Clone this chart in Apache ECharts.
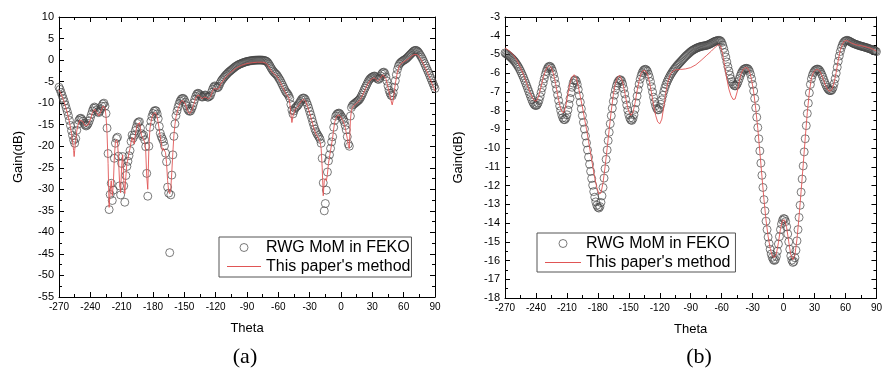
<!DOCTYPE html>
<html>
<head>
<meta charset="utf-8">
<script src="https://cdn.jsdelivr.net/npm/echarts@6/dist/echarts.min.js"></script>
<style>
  body { margin: 0; padding: 0; background: #fff; }
  #chart { width: 885px; height: 370px; }
</style>
</head>
<body>
<div id="chart"></div>
<script>
// FEKO samples: one value per degree, theta = -270 .. 90
const thetaStart = -270;

const fekoGainA = [
  -6.3, -6.8, -7.5, -8.2, -8.9, -9.6, -10.4, -11.2, -12.0, -12.9,
  -14.0, -15.2, -16.4, -17.5, -18.6, -19.3, -18.2, -16.3, -14.9, -14.0,
  -13.6, -13.5, -13.8, -14.2, -14.7, -15.1, -15.3, -15.1, -14.7, -14.1,
  -13.4, -12.6, -11.8, -11.2, -10.9, -11.1, -11.6, -12.0, -12.2, -11.9,
  -11.3, -10.7, -10.2, -10.0, -10.7, -12.4, -15.8, -21.7, -34.7, -31.2,
  -28.6, -32.6, -30.2, -22.8, -19.3, -18.2, -17.9, -22.3, -29.2, -31.3,
  -24.0, -22.4, -29.2, -33.0, -26.8, -24.7, -23.5, -22.2, -21.0, -18.9,
  -17.4, -18.1, -17.5, -16.4, -15.6, -14.7, -14.4, -14.3, -15.8, -17.1,
  -17.7, -17.4, -18.5, -20.1, -26.3, -31.6, -20.0, -15.6, -14.2, -13.1,
  -12.4, -11.9, -11.7, -11.8, -12.5, -13.6, -15.4, -17.0, -17.8, -18.3,
  -18.9, -19.9, -21.6, -23.6, -29.5, -30.9, -44.7, -31.3, -26.7, -22.0,
  -17.7, -14.8, -12.9, -11.8, -10.9, -10.1, -9.5, -9.1, -8.9, -8.9,
  -9.2, -9.8, -10.6, -11.3, -11.7, -11.9, -11.8, -11.3, -10.7, -9.9,
  -9.1, -8.4, -7.9, -7.7, -7.8, -8.1, -8.4, -8.6, -8.5, -8.2,
  -8.1, -8.3, -8.6, -8.6, -8.4, -8.2, -7.5, -6.8, -6.3, -6.0,
  -6.1, -6.4, -6.4, -6.1, -5.5, -5.0, -4.6, -4.3, -4.0, -3.7,
  -3.4, -3.2, -2.9, -2.7, -2.5, -2.3, -2.1, -1.9, -1.7, -1.5,
  -1.35, -1.2, -1.05, -0.95, -0.85, -0.75, -0.65, -0.55, -0.47, -0.4,
  -0.33, -0.27, -0.22, -0.18, -0.14, -0.1, -0.07, -0.05, -0.03, -0.02,
  -0.01, 0, 0, 0, -0.01, -0.03, -0.06, -0.1, -0.2, -0.35,
  -0.6, -0.95, -1.35, -1.8, -2.2, -2.55, -2.85, -3.1, -3.3, -3.6,
  -4.0, -4.4, -4.8, -5.3, -5.8, -6.3, -6.8, -7.3, -7.6, -7.9,
  -8.3, -8.9, -10.3, -11.6, -12.5, -11.8, -11.2, -10.9, -10.7, -10.4,
  -10.0, -9.6, -9.2, -8.9, -8.8, -8.9, -9.2, -9.8, -10.4, -11.1,
  -11.9, -12.7, -13.5, -14.4, -15.2, -16.0, -16.6, -17.1, -17.5, -17.9,
  -18.4, -19.3, -22.8, -28.5, -35.0, -33.3, -30.2, -26.0, -23.4, -22.0,
  -20.5, -19.0, -17.8, -15.6, -14.0, -13.0, -12.6, -12.4, -12.3, -12.5,
  -12.9, -13.3, -13.8, -14.3, -15.2, -16.2, -17.8, -19.5, -20.0, -13.0,
  -11.0, -10.5, -10.3, -10.1, -9.9, -9.7, -9.5, -9.3, -9.0, -8.6,
  -8.1, -7.6, -7.0, -6.5, -6.0, -5.5, -5.0, -4.6, -4.3, -4.1,
  -3.9, -3.8, -3.7, -3.8, -4.1, -4.4, -4.5, -4.2, -3.7, -3.2,
  -2.9, -2.8, -3.1, -3.9, -4.9, -6.0, -7.0, -7.7, -8.2, -8.3,
  -7.6, -6.3, -4.8, -3.4, -2.2, -1.4, -0.9, -0.6, -0.4, -0.2,
  -0.05, 0.1, 0.25, 0.45, 0.7, 0.95, 1.2, 1.45, 1.7, 1.95,
  2.15, 2.25, 2.25, 2.1, 1.85, 1.5, 1.1, 0.7, 0.25, -0.25,
  -0.8, -1.35, -1.9, -2.45, -3.0, -3.6, -4.2, -4.8, -5.4, -6.0,
  -6.6
];

// [theta, gain] of the red curve in (a)
const methodA = [
  [-270, -6.9], [-268, -7.9], [-266, -9.1], [-264, -10.6], [-262, -12.3], [-260, -14.4],
  [-258, -17.0], [-256, -21.0], [-255.5, -22.4], [-255, -21.0], [-254, -18.6], [-253, -16.5],
  [-252, -15.2], [-250, -13.9], [-249, -13.7], [-247, -14.3], [-245, -15.3], [-244, -15.6],
  [-242, -15.0], [-240, -13.8], [-238, -12.2], [-236, -11.4], [-234, -12.1], [-232, -13.0],
  [-230, -12.0], [-228, -10.7], [-227, -10.4], [-226, -11.0], [-225, -13.0], [-224, -17.0],
  [-223, -24.0], [-222, -34.2], [-221, -30.5], [-220, -28.0], [-219, -31.5], [-218, -29.0],
  [-217, -22.5], [-216, -19.0], [-215, -18.5], [-214, -19.0], [-213, -23.0], [-212, -28.5],
  [-211, -30.8], [-210, -24.5], [-209, -22.0], [-208, -28.0], [-207, -31.0], [-206, -27.0],
  [-205, -24.0], [-204, -23.0], [-203, -21.5], [-202, -20.5], [-201, -19.0], [-200, -18.0],
  [-199, -18.8], [-198, -19.5], [-197, -17.5], [-196, -16.0], [-195, -15.0], [-194, -14.6],
  [-193, -14.5], [-192, -16.0], [-191, -17.5], [-190, -18.0], [-189, -18.0], [-188, -19.0],
  [-187, -21.0], [-186, -27.0], [-185, -30.0], [-184, -21.0], [-183, -16.0], [-182, -14.5],
  [-181, -13.3], [-180, -12.6], [-178, -12.1], [-177, -12.3], [-176, -13.2], [-175, -14.6],
  [-174, -16.2], [-173, -17.8], [-172, -19.5], [-171, -21.0], [-170, -20.5], [-169, -20.2],
  [-168, -21.5], [-167, -24.0], [-166, -28.0], [-165, -30.5], [-164, -31.0], [-163, -30.0],
  [-162, -26.0], [-161, -21.5], [-160, -17.5], [-159, -15.0], [-158, -13.2], [-156, -11.3],
  [-154, -10.0], [-152, -9.3], [-151, -9.2], [-149, -10.2], [-147, -11.8], [-145, -12.5],
  [-143, -11.8], [-141, -10.3], [-139, -8.8], [-137, -8.1], [-135, -8.4], [-133, -9.0],
  [-131, -8.6], [-129, -8.7], [-127, -9.0], [-125, -8.6], [-123, -7.2], [-121, -6.5],
  [-119, -6.8], [-117, -6.6], [-115, -5.5], [-110, -3.8], [-105, -2.7], [-100, -1.8],
  [-95, -1.2], [-90, -0.8], [-85, -0.6], [-80, -0.5], [-75, -0.5], [-72, -0.7],
  [-70, -1.2], [-68, -2.0], [-66, -2.8], [-64, -3.2], [-62, -3.6], [-60, -4.3],
  [-58, -5.2], [-56, -6.2], [-54, -7.2], [-52, -8.0], [-50, -8.8], [-49, -10.0],
  [-48, -12.5], [-47, -14.5], [-46, -13.0], [-44, -11.5], [-42, -11.0], [-40, -10.3],
  [-38, -9.5], [-36, -9.1], [-34, -9.5], [-32, -10.8], [-30, -12.3], [-28, -14.0],
  [-26, -15.8], [-24, -17.2], [-22, -18.0], [-20, -19.0], [-19, -20.5], [-18, -25.0],
  [-17, -31.5], [-16, -28.0], [-15, -27.5], [-14, -28.0], [-13, -26.5], [-12, -24.0],
  [-11, -22.5], [-10, -21.0], [-9, -19.5], [-8, -18.0], [-7, -16.0], [-6, -14.4],
  [-4, -13.0], [-2, -12.7], [0, -13.3], [2, -14.2], [4, -15.6], [6, -18.2],
  [7, -19.8], [8, -20.5], [9, -14.0], [10, -11.5], [12, -10.6], [15, -10.0],
  [18, -9.3], [20, -8.5], [22, -7.4], [24, -6.4], [26, -5.4], [28, -4.7],
  [30, -4.3], [32, -4.1], [33, -4.2], [35, -4.9], [36, -5.0], [38, -4.1],
  [40, -3.4], [41, -3.3], [43, -4.3], [45, -6.3], [47, -8.5], [49, -10.4],
  [50, -9.3], [51, -7.3], [52, -5.5], [54, -2.8], [56, -1.3], [58, -0.7],
  [60, -0.4], [62, -0.1], [64, 0.2], [66, 0.6], [68, 1.0], [70, 1.3],
  [71.5, 1.45], [73, 1.25], [75, 0.7], [77, 0.0], [79, -0.9], [81, -1.9],
  [83, -3.0], [85, -4.2], [87, -5.4], [89, -6.6], [90, -7.2]
];

const fekoGainB = [
  -4.92, -4.96, -5.00, -5.04, -5.08, -5.13, -5.18, -5.23, -5.29, -5.35,
  -5.42, -5.50, -5.58, -5.67, -5.77, -5.88, -6.00, -6.12, -6.25, -6.39,
  -6.53, -6.67, -6.82, -6.97, -7.12, -7.27, -7.42, -7.55, -7.65, -7.71,
  -7.73, -7.70, -7.60, -7.45, -7.25, -7.02, -6.78, -6.53, -6.30, -6.08,
  -5.90, -5.76, -5.67, -5.63, -5.65, -5.73, -5.87, -6.06, -6.30, -6.57,
  -6.86, -7.16, -7.46, -7.75, -8.00, -8.22, -8.38, -8.47, -8.48, -8.40,
  -8.22, -7.97, -7.67, -7.35, -7.03, -6.75, -6.53, -6.39, -6.35, -6.42,
  -6.60, -6.87, -7.20, -7.55, -7.90, -8.26, -8.62, -8.98, -9.35, -9.72,
  -10.10, -10.48, -10.86, -11.24, -11.62, -11.98, -12.32, -12.62, -12.87, -13.05,
  -13.16, -13.20, -13.12, -12.90, -12.55, -12.10, -11.60, -11.10, -10.60, -10.10,
  -9.60, -9.15, -8.70, -8.27, -7.87, -7.50, -7.17, -6.90, -6.68, -6.52,
  -6.42, -6.36, -6.35, -6.42, -6.58, -6.82, -7.10, -7.40, -7.70, -7.98,
  -8.22, -8.40, -8.50, -8.52, -8.42, -8.22, -7.93, -7.58, -7.22, -6.88,
  -6.58, -6.32, -6.12, -5.97, -5.87, -5.81, -5.79, -5.82, -5.90, -6.05,
  -6.22, -6.45, -6.72, -7.00, -7.28, -7.53, -7.74, -7.88, -7.95, -7.95,
  -7.85, -7.66, -7.42, -7.18, -6.96, -6.77, -6.61, -6.47, -6.35, -6.24,
  -6.13, -6.04, -5.95, -5.87, -5.79, -5.72, -5.65, -5.58, -5.52, -5.46,
  -5.40, -5.34, -5.28, -5.22, -5.16, -5.10, -5.05, -5.00, -4.95, -4.90,
  -4.85, -4.81, -4.77, -4.74, -4.71, -4.68, -4.65, -4.63, -4.61, -4.59,
  -4.57, -4.56, -4.55, -4.54, -4.53, -4.52, -4.50, -4.48, -4.46, -4.43,
  -4.40, -4.37, -4.34, -4.31, -4.29, -4.27, -4.26, -4.25, -4.25, -4.28,
  -4.36, -4.50, -4.68, -4.90, -5.14, -5.40, -5.65, -5.88, -6.10, -6.30,
  -6.45, -6.57, -6.65, -6.68, -6.66, -6.58, -6.45, -6.30, -6.14, -6.00,
  -5.90, -5.82, -5.77, -5.75, -5.74, -5.75, -5.80, -5.90, -6.07, -6.30,
  -6.60, -6.95, -7.35, -7.85, -8.35, -8.90, -9.50, -10.15, -10.80, -11.45,
  -12.10, -12.75, -13.35, -13.90, -14.35, -14.75, -15.10, -15.40, -15.65, -15.83,
  -15.95, -16.00, -15.95, -15.78, -15.50, -15.12, -14.72, -14.35, -14.05, -13.85,
  -13.76, -13.78, -13.92, -14.20, -14.58, -15.00, -15.40, -15.75, -15.98, -16.10,
  -16.05, -15.85, -15.45, -14.95, -14.35, -13.70, -13.05, -12.35, -11.65, -10.95,
  -10.20, -9.50, -8.80, -8.15, -7.60, -7.05, -6.60, -6.30, -6.10, -5.97,
  -5.88, -5.82, -5.79, -5.78, -5.80, -5.86, -5.95, -6.07, -6.20, -6.35,
  -6.50, -6.63, -6.75, -6.84, -6.90, -6.93, -6.93, -6.88, -6.76, -6.56,
  -6.30, -6.00, -5.68, -5.36, -5.08, -4.84, -4.64, -4.49, -4.38, -4.31,
  -4.27, -4.25, -4.25, -4.27, -4.30, -4.33, -4.36, -4.39, -4.42, -4.44,
  -4.46, -4.48, -4.50, -4.52, -4.54, -4.55, -4.57, -4.58, -4.60, -4.62,
  -4.63, -4.65, -4.67, -4.69, -4.71, -4.73, -4.75, -4.77, -4.79, -4.82,
  -4.85
];

// [theta, gain] of the red curve in (b)
const methodB = [
  [-270, -4.65], [-266, -4.8], [-262, -5.02], [-258, -5.35], [-255, -5.7], [-252, -6.1],
  [-249, -6.55], [-246, -7.0], [-243, -7.35], [-241, -7.5], [-239, -7.45], [-237, -7.15],
  [-235, -6.7], [-233, -6.25], [-231, -5.9], [-229, -5.68], [-227, -5.6], [-225, -5.72],
  [-223, -6.05], [-221, -6.55], [-219, -7.15], [-217, -7.7], [-215, -8.05], [-214, -8.12],
  [-213, -8.1], [-211, -7.75], [-209, -7.1], [-207, -6.55], [-205, -6.2], [-203, -6.08],
  [-201, -6.25], [-199, -6.7], [-197, -7.25], [-195, -7.8], [-193, -8.4], [-191, -9.0],
  [-189, -9.65], [-187, -10.3], [-185, -10.95], [-183, -11.6], [-181, -12.1], [-179, -12.45],
  [-178, -12.5], [-177, -12.4], [-175, -11.85], [-173, -11.0], [-171, -10.0], [-169, -9.0],
  [-167, -8.0], [-165, -7.15], [-163, -6.55], [-161, -6.22], [-159, -6.12], [-158, -6.15],
  [-156, -6.45], [-154, -7.0], [-152, -7.6], [-150, -8.05], [-148, -8.25], [-146, -8.1],
  [-144, -7.6], [-142, -6.95], [-140, -6.4], [-138, -6.0], [-136, -5.85], [-134, -5.87],
  [-132, -6.05], [-130, -6.45], [-128, -7.05], [-126, -7.7], [-124, -8.25], [-122, -8.6],
  [-120, -8.7], [-118, -8.45], [-116, -7.75], [-114, -7.0], [-112, -6.45], [-110, -6.1],
  [-108, -5.92], [-105, -5.82], [-100, -5.8], [-95, -5.77], [-90, -5.7], [-85, -5.55],
  [-80, -5.32], [-75, -5.07], [-70, -4.82], [-66, -4.6], [-63, -4.47], [-62, -4.45],
  [-61, -4.55], [-59, -5.0], [-57, -5.65], [-55, -6.3], [-53, -6.85], [-51, -7.2],
  [-49, -7.4], [-48, -7.43], [-47, -7.38], [-45, -7.0], [-43, -6.45], [-41, -6.0],
  [-39, -5.78], [-37, -5.7], [-35, -5.72], [-33, -5.92], [-31, -6.35], [-29, -7.0],
  [-27, -7.9], [-25, -8.95], [-23, -10.2], [-21, -11.5], [-19, -12.75], [-17, -13.85],
  [-15, -14.7], [-13, -15.35], [-11, -15.75], [-9, -15.85], [-7, -15.65], [-5, -15.05],
  [-3, -14.3], [-1, -13.85], [0, -13.8], [1, -13.83], [3, -14.25], [5, -15.0],
  [7, -15.7], [9, -15.95], [11, -15.7], [13, -14.85], [15, -13.65], [17, -12.3],
  [19, -10.9], [21, -9.45], [23, -8.1], [25, -7.0], [27, -6.25], [29, -5.95],
  [31, -5.82], [33, -5.8], [35, -5.88], [37, -6.1], [39, -6.4], [41, -6.7],
  [43, -6.9], [45, -6.98], [47, -6.85], [49, -6.5], [51, -5.95], [53, -5.3],
  [55, -4.78], [57, -4.45], [59, -4.28], [61, -4.25], [63, -4.3], [66, -4.4],
  [70, -4.48], [75, -4.53], [80, -4.6], [85, -4.68], [90, -4.82]
];

const seriesNames = ['RWG MoM in FEKO', "This paper's method"];
const panelLabels = ['(a)', '(b)'];

const font = 'Liberation Sans';
const redColor = '#e05555';
const circleColor = '#454545';
const chart = echarts.init(document.getElementById('chart'));
const toPoints = arr => arr.map((g, i) => [thetaStart + i, g]);

function xAxes(grid, nameGap) {
  const base = {
    gridIndex: grid, type: 'value', min: -270, max: 90, interval: 30,
    splitLine: { show: false },
    axisLine: { show: true, onZero: false, lineStyle: { color: '#000', width: 1 } },
    axisTick: { inside: true, length: 5, lineStyle: { color: '#000' } },
    minorTick: { show: true, splitNumber: 2, length: 3, lineStyle: { color: '#000' } }
  };
  return [
    { ...base, position: 'bottom', name: 'Theta', nameLocation: 'middle', nameGap: nameGap,
      nameTextStyle: { fontFamily: font, fontSize: 13, color: '#000' },
      axisLabel: { fontFamily: font, fontSize: 10, color: '#000', margin: 5 } },
    { ...base, position: 'top', axisLabel: { show: false } }
  ];
}

function yAxes(grid, min, max, interval, nameGap) {
  const base = {
    gridIndex: grid, type: 'value', min: min, max: max, interval: interval,
    splitLine: { show: false },
    axisLine: { show: true, onZero: false, lineStyle: { color: '#000', width: 1 } },
    axisTick: { inside: true, length: 5, lineStyle: { color: '#000' } },
    minorTick: { show: true, splitNumber: 2, length: 3, lineStyle: { color: '#000' } }
  };
  return [
    { ...base, position: 'left', name: 'Gain(dB)', nameLocation: 'middle', nameGap: nameGap,
      nameTextStyle: { fontFamily: font, fontSize: 13, color: '#000' },
      axisLabel: { fontFamily: font, fontSize: 11, color: '#000', margin: 5 } },
    { ...base, position: 'right', axisLabel: { show: false } }
  ];
}

function panelSeries(axisIdx, feko, method) {
  return [
    {
      name: seriesNames[0], type: 'scatter', xAxisIndex: axisIdx, yAxisIndex: axisIdx,
      data: toPoints(feko), symbol: 'circle', symbolSize: 8,
      itemStyle: { color: 'rgba(0,0,0,0)', borderColor: circleColor, borderWidth: 0.9 },
      emphasis: { disabled: true }, z: 2
    },
    {
      name: seriesNames[1], type: 'line', xAxisIndex: axisIdx, yAxisIndex: axisIdx,
      data: method, symbol: 'none', showSymbol: false,
      itemStyle: { color: redColor },
      lineStyle: { color: redColor, width: 0.9 },
      emphasis: { disabled: true }, z: 3
    }
  ];
}

function legendAt(left, top, padding, itemWidth) {
  return {
    orient: 'vertical', left: left, top: top, padding: padding,
    itemWidth: itemWidth, itemHeight: 8, itemGap: 0,
    borderColor: '#555', borderWidth: 1, backgroundColor: '#fff',
    textStyle: { fontFamily: font, fontSize: 16, lineHeight: 19, color: '#000' },
    data: [
      { name: seriesNames[0], itemStyle: { color: 'rgba(0,0,0,0)', borderColor: circleColor, borderWidth: 0.9 } },
      { name: seriesNames[1], icon: 'path://M0,0H36V1H0Z', itemStyle: { color: redColor, borderWidth: 0 } }
    ]
  };
}

chart.setOption({
  animation: false,
  backgroundColor: '#fff',
  grid: [
    { left: 59, top: 17, width: 376, height: 280 },
    { left: 505, top: 17, width: 377, height: 281 }
  ],
  xAxis: [...xAxes(0, 25), ...xAxes(1, 25)],
  yAxis: [...yAxes(0, -55, 10, 5, 34), ...yAxes(1, -18, -3, 1, 40)],
  legend: [
    legendAt(219, 237, [1, 1, 1, 8], 34),
    legendAt(537, 233, [1, 5, 0, 8], 36)
  ],
  series: [
    ...panelSeries(0, fekoGainA, methodA),
    ...panelSeries(2, fekoGainB, methodB)
  ],
  graphic: [
    { type: 'text', x: 245, y: 357, style: { text: panelLabels[0], font: '22px "Liberation Serif"', fill: '#000', align: 'center', verticalAlign: 'middle' } },
    { type: 'text', x: 699, y: 357, style: { text: panelLabels[1], font: '22px "Liberation Serif"', fill: '#000', align: 'center', verticalAlign: 'middle' } }
  ]
});
</script>
</body>
</html>
